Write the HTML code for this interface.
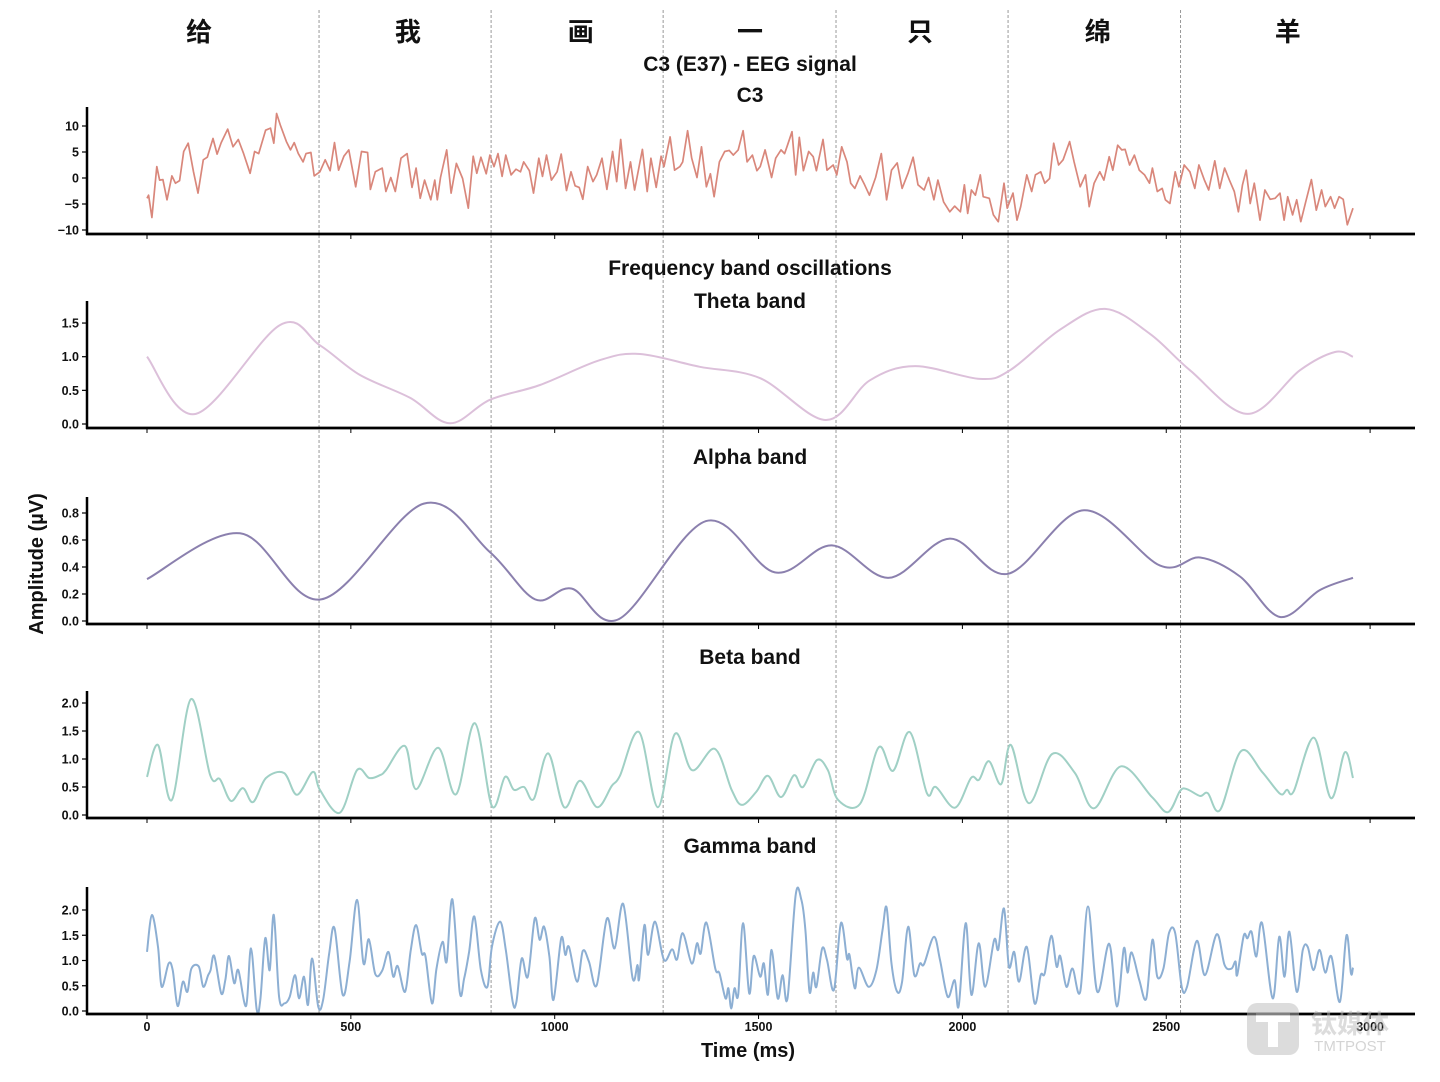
<!DOCTYPE html>
<html><head><meta charset="utf-8">
<style>
html,body{margin:0;padding:0;background:#fff;}
svg{display:block;font-family:"Liberation Sans","Noto Sans CJK SC",sans-serif;}
</style></head>
<body>
<svg id="chart" width="1440" height="1082" viewBox="0 0 1440 1082" xmlns="http://www.w3.org/2000/svg"></svg>
<script>
// ---- data ----
const wordChars = ["给","我","画","一","只","绵","羊"];
const wordCenters = [128,640,1064,1479,1896,2332,2798];
const wordBounds = [422,844,1266,1690,2112,2535];
const xTicks = [0,500,1000,1500,2000,2500,3000];

const eegT = [0,4,12,24,31,39,49,61,70,80,90,101,114,125,138,148,162,172,182,198,211,224,237,253,264,274,291,303,311,318,327,342,352,361,371,383,390,402,410,424,437,449,460,470,483,495,512,526,541,548,560,577,586,598,609,623,638,650,660,670,681,696,706,712,720,735,746,759,774,788,800,809,819,832,841,851,861,871,880,893,905,916,924,938,948,961,970,980,992,1006,1016,1029,1040,1050,1060,1069,1081,1094,1103,1116,1128,1142,1152,1162,1174,1186,1196,1215,1227,1236,1249,1261,1268,1283,1294,1307,1314,1326,1336,1349,1360,1372,1382,1391,1404,1417,1428,1438,1450,1462,1472,1485,1496,1504,1516,1532,1542,1555,1564,1571,1582,1591,1600,1610,1623,1634,1642,1658,1668,1683,1692,1704,1717,1726,1736,1749,1760,1772,1787,1801,1814,1826,1840,1852,1867,1879,1891,1906,1917,1930,1940,1954,1969,1981,1995,2005,2013,2022,2032,2044,2051,2066,2076,2088,2102,2110,2124,2134,2143,2158,2170,2179,2192,2202,2214,2224,2236,2247,2263,2274,2289,2302,2311,2323,2337,2347,2360,2369,2381,2391,2399,2410,2422,2434,2447,2459,2466,2478,2490,2498,2509,2522,2531,2544,2558,2570,2580,2593,2604,2619,2631,2643,2655,2667,2677,2687,2696,2706,2716,2730,2742,2755,2767,2779,2789,2798,2810,2820,2830,2842,2856,2868,2881,2890,2903,2913,2924,2934,2944,2958];
const eegV = [-3.9,-3.3,-7.6,2.2,-0.4,-0.3,-4.2,0.4,-1.0,-0.5,5.1,6.7,1.2,-2.9,3.5,4.0,7.6,4.6,6.8,9.4,6.0,7.4,4.7,0.9,5.1,4.7,9.2,9.6,6.7,12.4,10.2,7.0,5.4,6.8,4.7,3.1,4.7,4.9,0.4,1.2,3.5,1.4,6.8,1.5,4.2,5.4,-1.7,5.1,4.9,-2.2,1.2,1.9,-2.6,0.1,-2.6,3.8,4.7,-1.8,1.9,-3.9,-0.4,-4.2,-0.4,-4.2,0.1,5.4,-2.9,2.8,-0.1,-5.8,4.2,0.9,4.0,0.8,4.4,2.2,4.7,0.3,4.4,0.6,1.7,1.2,3.1,1.4,-2.9,3.8,0.3,4.4,-0.4,1.2,4.6,-2.4,1.2,-1.5,-1.8,-4.1,2.2,-0.7,0.6,3.8,-2.2,5.1,-0.7,7.4,-2.0,3.1,-2.3,5.5,-2.6,3.8,-1.8,4.2,2.2,7.9,1.5,2.2,3.1,9.1,3.8,0.1,6.0,-1.7,0.8,-3.6,3.1,5.1,5.3,4.4,5.4,9.1,3.1,4.4,1.4,2.2,5.4,0.1,3.8,5.4,4.7,6.3,8.9,0.6,7.8,1.4,5.1,4.1,1.4,7.4,1.5,2.5,0.6,6.0,3.1,-1.0,-2.0,0.4,-1.3,-3.3,0.1,4.7,-4.2,1.5,2.9,-2.0,1.0,4.0,-1.3,-2.3,0.1,-4.2,-0.4,-4.6,-6.5,-5.4,-6.5,-1.3,-6.8,-2.3,-3.3,0.6,-3.6,-3.9,-7.1,-8.4,-1.0,-5.8,-2.9,-8.1,-5.5,0.6,-2.6,0.6,1.2,-1.0,-0.1,6.7,2.5,3.5,7.0,3.1,-1.7,0.6,-5.5,-1.0,1.2,-0.4,4.1,1.5,6.3,5.4,5.5,2.5,4.4,1.5,0.6,-1.0,1.9,-2.6,-2.0,-4.2,-4.9,1.2,-1.7,2.5,1.2,-2.0,2.5,-0.3,-2.3,3.3,-2.0,1.9,-0.4,-2.6,-6.5,-1.3,1.5,-4.9,-1.0,-8.1,-2.3,-4.1,-3.9,-2.9,-8.1,-3.6,-7.1,-4.2,-8.4,-4.6,-0.3,-6.2,-2.3,-5.5,-3.6,-5.8,-3.6,-4.1,-9.0,-5.8];

const thetaT = [0,120,326,424,522,645,743,841,964,1111,1209,1356,1504,1665,1773,1884,2043,2117,2239,2350,2460,2558,2700,2828,2914,2958];
const thetaV = [1.0,0.15,1.47,1.17,0.73,0.39,0.01,0.36,0.58,0.95,1.04,0.85,0.68,0.06,0.65,0.86,0.67,0.8,1.4,1.71,1.34,0.8,0.15,0.8,1.07,1.0];

const alphaT = [0,228,427,679,841,952,1042,1158,1371,1540,1680,1820,1969,2112,2298,2485,2583,2681,2779,2877,2958];
const alphaV = [0.31,0.65,0.16,0.87,0.51,0.16,0.24,0.015,0.74,0.36,0.56,0.32,0.61,0.35,0.82,0.41,0.47,0.33,0.03,0.23,0.32];

const betaT = [0,27,61,108,155,179,206,235,260,292,336,368,407,424,473,515,545,571,586,633,660,714,758,804,846,878,900,925,949,984,1023,1062,1104,1140,1160,1207,1253,1295,1337,1393,1434,1459,1494,1523,1555,1587,1609,1643,1670,1695,1749,1795,1830,1871,1913,1935,1982,2021,2041,2065,2095,2119,2163,2220,2276,2323,2389,2465,2504,2534,2551,2583,2602,2632,2683,2735,2779,2796,2813,2862,2904,2938,2958];
const betaV = [0.68,1.25,0.27,2.07,0.71,0.64,0.25,0.48,0.23,0.66,0.75,0.36,0.77,0.45,0.04,0.8,0.66,0.71,0.8,1.23,0.46,1.2,0.37,1.64,0.16,0.68,0.45,0.5,0.29,1.1,0.14,0.61,0.14,0.52,0.7,1.48,0.14,1.45,0.8,1.18,0.45,0.18,0.41,0.7,0.32,0.71,0.5,0.98,0.8,0.27,0.2,1.21,0.79,1.48,0.39,0.5,0.13,0.66,0.63,0.96,0.55,1.25,0.21,1.09,0.75,0.12,0.87,0.32,0.05,0.43,0.46,0.34,0.39,0.09,1.14,0.77,0.38,0.45,0.43,1.38,0.3,1.12,0.66];

const gammaT = [0,12,27,36,53,63,75,88,99,109,127,138,150,156,165,182,192,201,214,224,243,255,269,278,290,301,311,324,337,350,363,373,385,395,405,420,432,447,460,480,497,515,531,544,560,577,592,604,615,633,647,660,674,683,699,710,725,735,749,767,778,790,803,819,835,846,866,880,897,906,919,934,951,963,974,987,997,1016,1026,1035,1055,1069,1084,1103,1128,1147,1168,1191,1203,1207,1220,1229,1246,1268,1288,1300,1314,1336,1349,1358,1372,1394,1404,1419,1426,1433,1441,1450,1462,1477,1488,1504,1513,1523,1532,1547,1559,1571,1591,1605,1615,1625,1634,1642,1656,1668,1685,1702,1717,1723,1736,1746,1770,1789,1804,1814,1826,1840,1852,1867,1882,1896,1906,1930,1945,1964,1981,1991,2008,2022,2040,2056,2078,2088,2102,2114,2127,2139,2158,2177,2192,2202,2218,2231,2240,2255,2270,2289,2308,2331,2360,2379,2396,2405,2415,2434,2451,2466,2478,2493,2507,2522,2538,2551,2575,2595,2624,2643,2660,2670,2674,2690,2699,2709,2721,2735,2761,2777,2790,2802,2820,2835,2847,2861,2876,2890,2905,2926,2942,2953,2958];
const gammaV = [1.17,1.90,1.27,0.48,0.94,0.81,0.10,0.58,0.38,0.84,0.88,0.48,0.71,0.81,1.09,0.35,0.61,1.09,0.55,0.81,0.10,1.24,0.03,0.22,1.44,0.81,1.90,0.28,0.15,0.28,0.71,0.25,0.68,0.12,1.04,0.09,0.22,1.14,1.64,0.32,0.98,2.20,0.94,1.42,0.73,0.80,1.17,0.68,0.89,0.38,1.21,1.70,1.14,1.08,0.15,0.84,1.37,0.98,2.21,0.38,0.65,1.17,1.87,0.81,0.48,1.27,1.77,1.21,0.18,0.18,1.04,0.68,1.83,1.41,1.67,1.08,0.22,1.44,1.11,1.27,0.58,1.19,0.98,0.51,1.83,1.24,2.12,0.65,0.91,0.63,1.70,1.11,1.77,1.01,1.22,1.02,1.54,0.94,1.34,1.14,1.75,0.84,0.75,0.25,0.45,0.05,0.45,0.32,1.74,0.35,1.09,0.68,0.94,0.32,1.21,0.25,0.71,0.25,2.30,2.20,1.60,0.38,0.76,0.48,1.24,1.01,0.42,1.74,1.04,1.11,0.45,0.86,0.48,0.81,1.60,2.05,0.94,0.38,0.58,1.67,0.71,0.94,0.93,1.47,1.01,0.28,0.61,0.10,1.74,0.32,1.34,0.48,1.41,1.22,2.03,0.88,1.17,0.58,1.27,0.15,0.71,0.75,1.49,0.88,1.09,0.48,0.84,0.38,2.07,0.38,1.33,0.09,1.24,0.76,1.16,0.61,0.25,1.41,0.68,0.84,1.55,1.54,0.48,0.48,1.39,0.71,1.52,0.91,0.84,0.98,0.71,1.49,1.44,1.57,1.08,1.74,0.25,1.47,0.68,1.57,0.38,1.21,1.27,0.81,1.21,0.76,1.08,0.18,1.50,0.75,0.86];

const eegTicks = [10,5,0,-5,-10];
const thetaTicks = [1.5,1.0,0.5,0.0];
const alphaTicks = [0.8,0.6,0.4,0.2,0.0];
const betaTicks = [2.0,1.5,1.0,0.5,0.0];
const gammaTicks = [2.0,1.5,1.0,0.5,0.0];

// ---- layout ----
const NS = "http://www.w3.org/2000/svg";
const svg = document.getElementById('chart');
const X0 = 147, PXPERMS = 0.4077;
const xs = t => X0 + t * PXPERMS;
function el(tag, attrs, parent) {
  const e = document.createElementNS(NS, tag);
  for (const k in attrs) e.setAttribute(k, attrs[k]);
  (parent || svg).appendChild(e);
  return e;
}
function txt(s, attrs, parent) { const e = el('text', attrs, parent); e.textContent = s; return e; }

function linePath(T, V, ys) {
  return T.map((t, i) => (i ? 'L' : 'M') + xs(t).toFixed(1) + ',' + ys(V[i]).toFixed(1)).join('');
}
function smoothPath(T, V, ys) {
  const P = T.map((t, i) => [xs(t), ys(V[i])]);
  let d = 'M' + P[0][0].toFixed(1) + ',' + P[0][1].toFixed(1);
  for (let i = 0; i < P.length - 1; i++) {
    const p0 = P[Math.max(0, i - 1)], p1 = P[i], p2 = P[i + 1], p3 = P[Math.min(P.length - 1, i + 2)];
    const c1 = [p1[0] + (p2[0] - p0[0]) / 6, p1[1] + (p2[1] - p0[1]) / 6];
    const c2 = [p2[0] - (p3[0] - p1[0]) / 6, p2[1] - (p3[1] - p1[1]) / 6];
    d += 'C' + c1[0].toFixed(1) + ',' + c1[1].toFixed(1) + ' ' + c2[0].toFixed(1) + ',' + c2[1].toFixed(1) + ' ' + p2[0].toFixed(1) + ',' + p2[1].toFixed(1);
  }
  return d;
}

const panels = [
  {name:'eeg', T:eegT, V:eegV, ticks:eegTicks, zero:178, ppu:5.2, top:107, bottom:234, color:'#d9877b', smooth:false, fmt:v=>v<0?'\u2212'+Math.abs(v):String(v), width:1.7},
  {name:'theta', T:thetaT, V:thetaV, ticks:thetaTicks, zero:424, ppu:67.3, top:301, bottom:428, color:'#dcc0da', smooth:true, fmt:v=>v.toFixed(1), width:2},
  {name:'alpha', T:alphaT, V:alphaV, ticks:alphaTicks, zero:621, ppu:135, top:497, bottom:624, color:'#8b80ae', smooth:true, fmt:v=>v.toFixed(1), width:2},
  {name:'beta', T:betaT, V:betaV, ticks:betaTicks, zero:815, ppu:56, top:691, bottom:818, color:'#a0d0c5', smooth:true, fmt:v=>v.toFixed(1), width:2},
  {name:'gamma', T:gammaT, V:gammaV, ticks:gammaTicks, zero:1011, ppu:50.5, top:887, bottom:1014, color:'#8dafd3', smooth:true, fmt:v=>v.toFixed(1), width:2}
];

const gB = el('g', {});


wordBounds.forEach(b => {
  const l = el('line', {x1:xs(b), x2:xs(b), y1:10, y2:1014, stroke:'#999', 'stroke-width':1, 'stroke-dasharray':'3,2'}, gB);
  
  
});

wordChars.forEach((c, i) => {
  const t = txt(c, {x:xs(wordCenters[i]), y:41, 'text-anchor':'middle', 'font-size':26, 'font-weight':'bold', fill:'#111', 'font-family':'"Liberation Sans","Noto Sans CJK SC",sans-serif'});
  
  
});

const titles = [["C3 (E37) - EEG signal",71],["C3",102],["Frequency band oscillations",275],["Theta band",308],["Alpha band",464],["Beta band",664],["Gamma band",853]];
titles.forEach(([s, y]) => {
  const t = txt(s, {x:750, y:y, 'text-anchor':'middle', 'font-size':21, 'font-weight':'bold', fill:'#111'});
  
  
});

panels.forEach(p => {
  const g = el('g', {});
  
  
  const ys = v => p.zero - v * p.ppu;
  const path = el('path', {d: p.smooth ? smoothPath(p.T, p.V, ys) : linePath(p.T, p.V, ys), fill:'none', stroke:p.color, 'stroke-width':p.width, 'stroke-linejoin':'round'}, g);
  
  
  const ls = el('line', {x1:87, x2:87, y1:p.top, y2:p.bottom + 1, stroke:'#000', 'stroke-width':2.5}, g);
  
  
  const bs = el('line', {x1:86, x2:1415, y1:p.bottom, y2:p.bottom, stroke:'#000', 'stroke-width':2.8}, g);
  
  
  p.ticks.forEach(v => {
    const y = ys(v);
    el('line', {x1:82, x2:87, y1:y, y2:y, stroke:'#000', 'stroke-width':1.2}, g);
    const t = txt(p.fmt(v), {x:79, y:y + 4.5, 'text-anchor':'end', 'font-size':12.5, 'font-weight':'bold', fill:'#111'}, g);
    
    
  });
  xTicks.forEach(v => {
    el('line', {x1:xs(v), x2:xs(v), y1:p.bottom, y2:p.bottom + 5, stroke:'#000', 'stroke-width':1}, g);
  });
});

xTicks.forEach(v => {
  const t = txt(String(v), {x:xs(v), y:1031, 'text-anchor':'middle', 'font-size':12.5, 'font-weight':'bold', fill:'#111'});
  
  
});
const xt = txt('Time (ms)', {x:748, y:1057, 'text-anchor':'middle', 'font-size':20, 'font-weight':'bold', fill:'#111'});


const yt = txt('Amplitude (\u00b5V)', {x:0, y:0, 'text-anchor':'middle', 'font-size':20, 'font-weight':'bold', fill:'#111', transform:'translate(43,564) rotate(-90)'});



const wm = el('g', {opacity:0.5});


el('rect', {x:1247, y:1003, width:52, height:52, rx:10, fill:'#bbb'}, wm);
el('rect', {x:1256, y:1013, width:34, height:9, fill:'#fff'}, wm);
el('rect', {x:1268, y:1013, width:10, height:34, fill:'#fff'}, wm);
txt('钛媒体', {x:1350, y:1033, 'text-anchor':'middle', 'font-size':26, 'font-weight':'bold', fill:'#bbb', 'font-family':'"Noto Sans CJK SC",sans-serif'}, wm);
txt('TMTPOST', {x:1350, y:1051, 'text-anchor':'middle', 'font-size':15, fill:'#aaa'}, wm);
</script>
</body></html>
